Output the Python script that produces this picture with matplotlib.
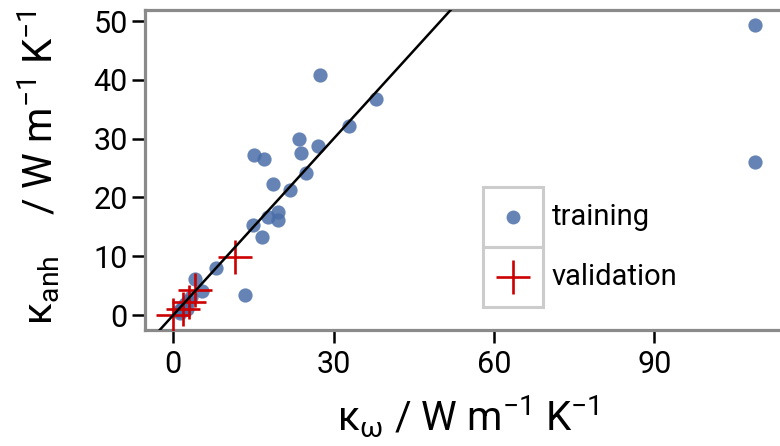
import matplotlib
matplotlib.use("Agg")
import matplotlib.pyplot as plt
import numpy as np
from matplotlib.patches import Rectangle
from matplotlib.lines import Line2D

plt.rcParams['font.family'] = ['Roboto', 'DejaVu Sans']
plt.rcParams['mathtext.fontset'] = 'custom'
plt.rcParams['mathtext.rm'] = 'Roboto'
plt.rcParams['mathtext.it'] = 'Roboto:italic'

# training set: kappa_omega vs kappa_anh (W m^-1 K^-1)
train_x = [27.4, 37.9, 32.9, 23.5, 27.0, 23.9, 15.1, 16.9, 24.9, 18.6,
           21.8, 19.5, 17.8, 19.5, 15.0, 16.6, 8.0, 13.4, 4.0, 5.4,
           1.0, 1.6, 2.2, 2.8, 3.4, 1.3, 2.5, 108.9, 108.9]
train_y = [40.8, 36.7, 32.2, 29.9, 28.7, 27.6, 27.3, 26.6, 24.2, 22.3,
           21.3, 17.5, 16.6, 16.2, 15.3, 13.3, 8.0, 3.4, 6.1, 4.1,
           0.6, 1.2, 1.8, 2.4, 3.0, 0.3, 1.0, 49.4, 26.0]

# validation set
valid_x = [0.0, 1.8, 3.0, 4.0, 11.5]
valid_y = [0.0, 1.0, 2.2, 4.3, 9.9]

x_ticks = [0, 30, 60, 90]
y_ticks = [0, 10, 20, 30, 40, 50]
legend_labels = ["training", "validation"]

W, H = 780, 446
fig = plt.figure(figsize=(W / 100, H / 100), dpi=100)
L, R, T, B = 145, 790, 10, 330
ax = fig.add_axes([L / W, 1 - B / H, (R - L) / W, (B - T) / H])

blue = '#4a6ea8'
red = '#cc0000'

ax.scatter(train_x, train_y, s=105, color=blue, alpha=0.85, linewidths=0, zorder=2)
ax.plot(valid_x, valid_y, linestyle='none', marker='+', markersize=24,
        markeredgewidth=1.9, color=red, zorder=3)

# identity line
xl = np.array([-10, 150])
ax.plot(xl, xl, color='black', lw=1.8, zorder=4)

ax.set_xlim(-5.3, 115.4)
ax.set_ylim(-2.55, 51.9)
ax.set_xticks(x_ticks)
ax.set_yticks(y_ticks)

for s in ax.spines.values():
    s.set_color('#8a8a8a')
    s.set_linewidth(2.3)
ax.tick_params(axis='both', length=9.5, width=1.8, color='black',
               labelsize=22, labelcolor='black')
ax.tick_params(axis='x', pad=5)
ax.tick_params(axis='y', pad=3)

ax.set_xlabel('κ$_{\\mathrm{\\omega}}$ / W m$^{-1}$ K$^{-1}$', fontsize=29)
ax.xaxis.set_label_coords(0.5, (B - 394) / (B - T))
ax.set_ylabel('κ$_{\\mathrm{anh}}$    / W m$^{-1}$ K$^{-1}$', fontsize=29)
ax.yaxis.set_label_coords((62 - L) / (R - L), (B - 167) / (B - T))

# legend with key boxes, placed in pixel space
def px(x, y):
    return x / W, 1 - y / H

box_l, box_r = 483, 543
rows = [(187, 247), (247, 307)]
for (top, bot), lab, kind in zip(rows, legend_labels, ['o', '+']):
    x0, y0 = px(box_l, bot)
    fig.patches.append(Rectangle((x0, y0), (box_r - box_l) / W, (bot - top) / H,
                                 transform=fig.transFigure, facecolor='white',
                                 edgecolor='#cccccc', lw=2.2, zorder=5))
    cx, cy = px((box_l + box_r) / 2, (top + bot) / 2)
    if kind == 'o':
        fig.add_artist(Line2D([cx], [cy], transform=fig.transFigure, marker='o',
                              markersize=10, color=blue, alpha=0.85,
                              markeredgewidth=0, linestyle='none', zorder=6))
    else:
        fig.add_artist(Line2D([cx], [cy], transform=fig.transFigure, marker='+',
                              markersize=24, markeredgewidth=1.9, color=red,
                              linestyle='none', zorder=6))
    tx, ty = px(552, (top + bot) / 2)
    fig.text(tx, ty, lab, fontsize=21, ha='left', va='center', color='black')

fig.savefig('out.png', dpi=100)
